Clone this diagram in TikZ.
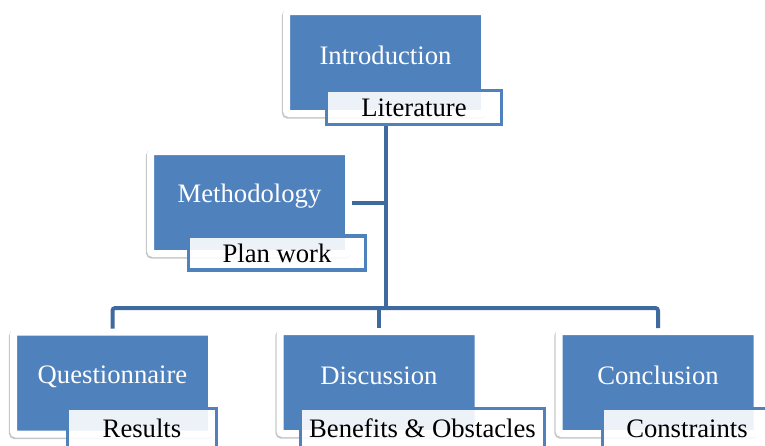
\documentclass[tikz,border=0pt]{standalone}
\usepackage{fontspec}
\setmainfont{Liberation Serif}
\usetikzlibrary{shadows}
\definecolor{boxblue}{HTML}{4F81BD}
\definecolor{linkblue}{HTML}{3F6A9E}
\begin{document}
\begin{tikzpicture}[x=0.75pt, y=-0.75pt,
	topic/.style={rectangle, draw=white, line width=5.25pt, fill=boxblue, rounded corners=2pt, minimum width=148.5pt, minimum height=76.5pt, drop shadow={opacity=0.22, draw=black, shadow xshift=-0.8pt, shadow yshift=-1.3pt}, label={[topictext]center:#1}},
	topictext/.style={text=white, font=\fontsize{20}{24}\selectfont, yshift=5pt},
	sub/.style={rectangle, draw=boxblue, line width=2.6pt, fill=white, fill opacity=0.9, text opacity=1, minimum height=25.5pt, inner sep=0pt, font=\fontsize{20}{24}\selectfont},
	link/.style={draw=linkblue, line width=3pt, rounded corners=2pt}]
	\clip (0,0) rectangle (765,446);
	% top
	\node[topic=Introduction] (intro) at (385.5,62.5) {};
	\node[sub, minimum width=131.25pt] (lit) at (414,107.5) {Literature};
	\node[topic=Methodology] (meth) at (249.5,202.5) {};
	\node[sub, minimum width=132.75pt] (plan) at (277,253) {Plan work};
	% bottom row, label boxes run off the page
	\node[topic=Questionnaire] (quest) at (112.5,383) {};
	\node[sub, minimum width=111.75pt, minimum height=30pt] (res) at (142,428.5) {Results};
	\node[topic=Discussion] (disc) at (379,382.5) {};
	\node[sub, minimum width=183pt, minimum height=30pt] (ben) at (422.5,428.5) {Benefits \& Obstacles};
	\node[topic=Conclusion] (concl) at (658,382.5) {};
	\node[sub, minimum width=126.75pt, minimum height=30pt] (cons) at (687,428.5) {Constraints};
	% connectors
	\coordinate (bar) at (385.5,308);
	\draw[link] (intro.south |- lit.south) -- (bar);
	\draw[link] (meth.east) -- (meth.east -| bar);
	\draw[link] (quest.north) |- (bar) -| (concl.north);
	\draw[link] (disc.north) -- (disc.north |- bar);
\end{tikzpicture}
\end{document}
